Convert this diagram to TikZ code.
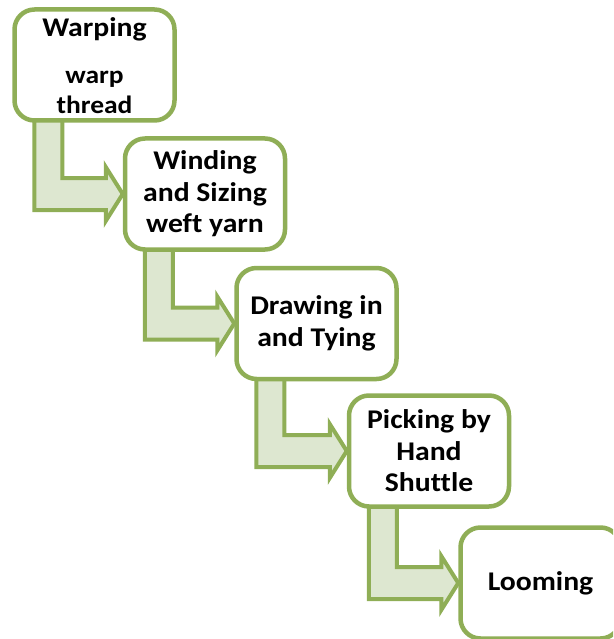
\documentclass[tikz,border=0pt]{standalone}
\usepackage{fontspec}
\setmainfont{Carlito}[FakeStretch=1.1, Ligatures=NoCommon]
\usetikzlibrary{calc}
\definecolor{gborder}{HTML}{8FAE56}
\definecolor{gfill}{HTML}{DDE7D0}
\begin{document}
\begin{tikzpicture}[x=1pt,y=-1pt,
  stepbox/.style={draw=gborder, line width=4.5pt, fill=white, rounded corners=20pt,
    minimum width=160pt, minimum height=111pt, inner sep=0pt, align=center,
    font=\fontsize{27}{31.5}\selectfont\bfseries},
  boxtext/.style={inner sep=0pt, align=center, font=\fontsize{27}{31.5}\selectfont\bfseries},
  bentarrow/.style={draw=gborder, line width=4pt, fill=gfill, line join=miter}]
\useasboundingbox (0,0) rectangle (613,639);
\clip (0,0) rectangle (613,639);
\newcommand{\bentarr}[2]{%
  \draw[bentarrow] let \p1=(#1.south west), \p2=(#2.west) in
    (\x1+22,\y1+8) -- (\x1+50,\y1+8) -- (\x1+50,\y2+16) -- (\x2-17,\y2+16)
    -- (\x2-17,\y2+27) -- (\x2,\y2) -- (\x2-17,\y2-27) -- (\x2-17,\y2-16)
    -- (\x1+22,\y2-16) -- cycle;}
% box positions
\coordinate (c1) at (94.5,65);
\coordinate (c2) at (205,194);
\coordinate (c3) at (316.5,323.5);
\coordinate (c4) at (429,451);
\coordinate (c5) at (540.5,583);
% invisible frames used to place the arrows under the boxes
\node[stepbox, draw=none, fill=none] (g1) at (c1) {};
\node[stepbox, draw=none, fill=none] (g2) at (c2) {};
\node[stepbox, draw=none, fill=none] (g3) at (c3) {};
\node[stepbox, draw=none, fill=none] (g4) at (c4) {};
\node[stepbox, draw=none, fill=none] (g5) at (c5) {};
\bentarr{g1}{g2}
\bentarr{g2}{g3}
\bentarr{g3}{g4}
\bentarr{g4}{g5}
% boxes
\node[stepbox] (b1) at (c1) {};
\node[boxtext] (t1) at (94.5,29) {Warping};
\node[boxtext, font=\fontsize{25}{30}\selectfont\bfseries] (t1b) at (94.5,92) {warp\\thread};
\node[stepbox] (b2) at (c2) {Winding\\and Sizing\\weft yarn};
\node[stepbox] (b3) at (c3) {Drawing in\\and Tying};
\node[stepbox] (b4) at (c4) {Picking by\\Hand\\Shuttle};
\node[stepbox] (b5) at (c5) {Looming};
\end{tikzpicture}
\end{document}
